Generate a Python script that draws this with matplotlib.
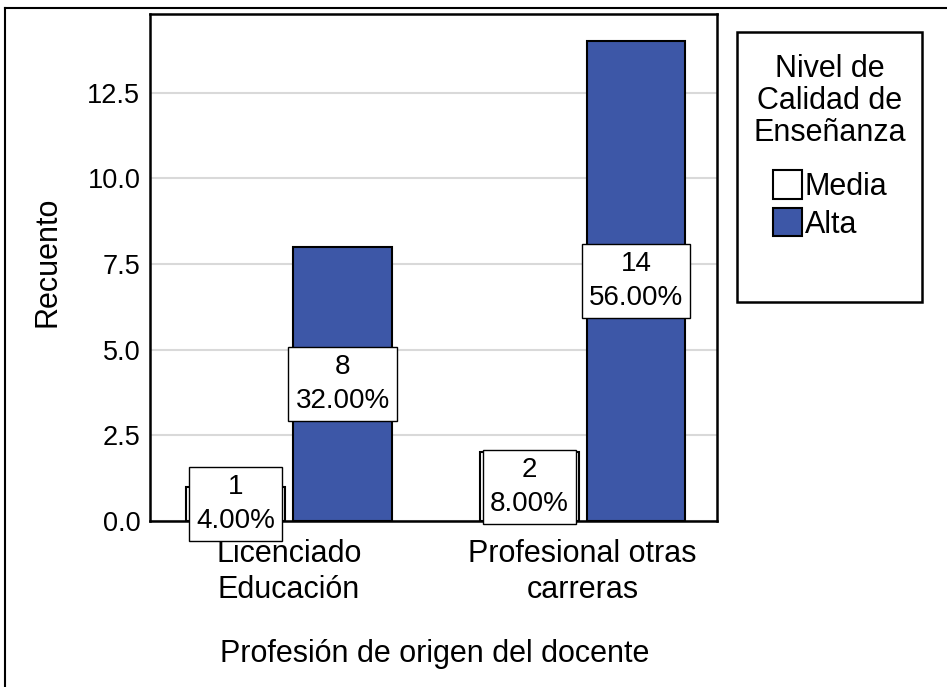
import matplotlib
matplotlib.use('Agg')
from matplotlib import pyplot as plt
from matplotlib.patches import Rectangle
from matplotlib.lines import Line2D
import numpy as np

# data
categories = ['Licenciado\nEducación', 'Profesional otras\ncarreras']
levels = ['Media', 'Alta']
media_counts = [1, 2]
alta_counts = [8, 14]
media_pct = [4.00, 8.00]
alta_pct = [32.00, 56.00]
yticks = [0.0, 2.5, 5.0, 7.5, 10.0, 12.5]

plt.rcParams['font.family'] = ['Liberation Sans', 'DejaVu Sans']
FS_TXT = 22
FS_TICK = 19.5
FS_VAL = 20

fig = plt.figure(figsize=(9.47, 6.87), dpi=100)
ax = fig.add_axes([150/947, 1 - 521/687, (717 - 150)/947, (521 - 14)/687])

x = np.arange(len(categories))
width = 0.337
off = 0.182
colors = ['white', '#3D57A7']

b1 = ax.bar(x - off, media_counts, width, color=colors[0], edgecolor='black',
            linewidth=1.5, zorder=3, label=levels[0])
b2 = ax.bar(x + off, alta_counts, width, color=colors[1], edgecolor='black',
            linewidth=1.5, zorder=3, label=levels[1])

# value labels in the middle of each bar
for xs, counts, pcts in [(x - off, media_counts, media_pct), (x + off, alta_counts, alta_pct)]:
    for xi, c, p in zip(xs, counts, pcts):
        ax.text(xi, c / 2, f'{c}\n{p:.2f}%', ha='center', va='center', fontsize=FS_VAL,
                linespacing=1.4, zorder=6, clip_on=False,
                bbox=dict(boxstyle='square,pad=0.25', facecolor='white', edgecolor='black', linewidth=1))

ax.set_xlim(-0.474, 1.458)
ax.set_ylim(0, 14.8)
ax.set_yticks(yticks)
ax.set_yticklabels([f'{t:.1f}' for t in yticks], fontsize=FS_TICK)
ax.set_xticks(x)
ax.set_xticklabels(categories, fontsize=FS_TXT, linespacing=1.27)
ax.tick_params(axis='y', length=0, pad=7)
ax.tick_params(axis='x', length=0, pad=13)
ax.yaxis.grid(True, color='#D9D9D9', linewidth=1.5, zorder=0)
ax.set_axisbelow(True)
for s in ax.spines.values():
    s.set_linewidth(1.8)

fig.text(47/947, 1 - 262/687, 'Recuento', rotation=90, ha='center', va='center', fontsize=FS_TXT)
fig.text(435/947, 1 - 654/687, 'Profesión de origen del docente', ha='center', va='center', fontsize=FS_TXT)

# legend box, title and entries
fig.patches.append(Rectangle((737/947, 1 - 302/687), (922 - 737)/947, (302 - 32)/687,
                             transform=fig.transFigure, facecolor='white', edgecolor='black',
                             linewidth=1.8))
fig.text(830/947, 1 - 101/687, 'Nivel de\nCalidad de\nEnseñanza', ha='center', va='center',
         multialignment='center', fontsize=FS_TXT, linespacing=1.1)
fig.legend(handles=[b1, b2], labels=levels, loc='upper center',
           bbox_to_anchor=(830/947, 1 - 155/687), frameon=False,
           fontsize=FS_TXT, handlelength=0.95, handleheight=1.05,
           handletextpad=0.1, labelspacing=0.2, borderpad=0)

# outer frame
fig.lines.append(Line2D([5/947, 1], [1 - 8/687, 1 - 8/687], transform=fig.transFigure,
                        color='black', linewidth=1.5))
fig.lines.append(Line2D([5/947, 5/947], [0, 1 - 8/687], transform=fig.transFigure,
                        color='black', linewidth=1.5))

fig.savefig('out.png', dpi=100)
